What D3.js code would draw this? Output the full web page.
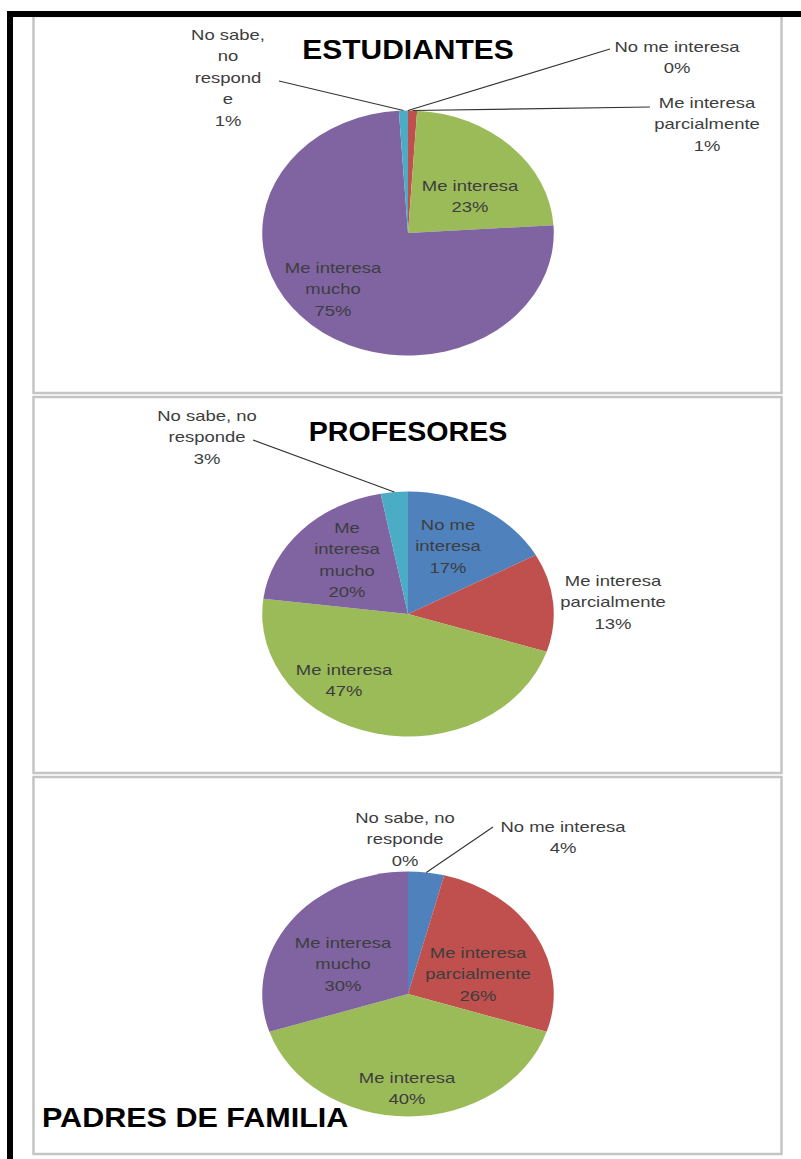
<!DOCTYPE html>
<html>
<head>
<meta charset="utf-8">
<script src="https://cdn.jsdelivr.net/npm/d3@7"></script>
<style>
  body { margin: 0; background: #fff; }
  svg { display: block; }
</style>
</head>
<body>
<div id="chart"></div>
<script>
// data
const categories = ["No me interesa", "Me interesa parcialmente", "Me interesa", "Me interesa mucho", "No sabe, no responde"]
const colors = ["#4F81BD", "#C0504D", "#9BBB59", "#8064A2", "#4BACC6"]
const titles = ["ESTUDIANTES", "PROFESORES", "PADRES DE FAMILIA"]
const estudiantes = [0, 1, 23, 75, 1]
const profesores = [17, 13, 47, 20, 3]
const padres = [4, 26, 40, 30, 0]

// how each category name is wrapped in each chart
const wrapEstudiantes = [["No me interesa"], ["Me interesa", "parcialmente"], ["Me interesa"], ["Me interesa", "mucho"], ["No sabe,", "no", "respond", "e"]]
const wrapProfesores = [["No me", "interesa"], ["Me interesa", "parcialmente"], ["Me interesa"], ["Me", "interesa", "mucho"], ["No sabe, no", "responde"]]
const wrapPadres = [["No me interesa"], ["Me interesa", "parcialmente"], ["Me interesa"], ["Me interesa", "mucho"], ["No sabe, no", "responde"]]

const W = 801, H = 1159
const RY = 122.5            // vertical radius of the pie
const SX = 1.19             // the original picture is stretched horizontally
const TEXT_SX = 1.23
const LINE = 21.5

// layout of every panel (label positions = centre x, first baseline, leader start)
const panels = [
  {
    values: estudiantes, wrap: wrapEstudiantes, top: 16, bottom: 393,
    cx: 408, cy: 233,
    title: {x: 408, y: 59, anchor: "middle", sx: 1.09},
    labels: [
      {x: 677, y: 52, lead: [610, 49]},
      {x: 707, y: 108, lead: [650, 107]},
      {x: 470, y: 191},
      {x: 333, y: 273},
      {x: 228, y: 40, lead: [279, 81]}
    ]
  },
  {
    values: profesores, wrap: wrapProfesores, top: 397, bottom: 773,
    cx: 408, cy: 614,
    title: {x: 408, y: 441, anchor: "middle", sx: 1.04},
    labels: [
      {x: 448, y: 530},
      {x: 613, y: 586},
      {x: 344, y: 675},
      {x: 347, y: 533},
      {x: 207, y: 421, lead: [253, 440]}
    ]
  },
  {
    values: padres, wrap: wrapPadres, top: 777, bottom: 1154,
    cx: 408, cy: 994,
    title: {x: 42, y: 1127, anchor: "start", sx: 1.11},
    labels: [
      {x: 563, y: 832, lead: [493, 827]},
      {x: 478, y: 958},
      {x: 407, y: 1083},
      {x: 343, y: 948},
      {x: 405, y: 823}
    ]
  }
]

const svg = d3.select("#chart").append("svg")
  .attr("width", W)
  .attr("height", H)

const pie = d3.pie().sort(null).value(d => d)
const arc = d3.arc().innerRadius(0).outerRadius(RY)

panels.forEach((p, i) => {
  // panel frame
  svg.append("rect")
    .attr("x", 33.5).attr("y", p.top)
    .attr("width", 748).attr("height", p.bottom - p.top)
    .attr("fill", "#fff")
    .attr("stroke", "#c4c4c4")
    .attr("stroke-width", 2.5)

  const slices = pie(p.values)

  // pie, drawn as a circle and stretched into an ellipse
  svg.append("g")
    .attr("transform", `translate(${p.cx},${p.cy}) scale(${SX},1)`)
    .selectAll("path")
    .data(slices)
    .join("path")
    .attr("d", arc)
    .attr("fill", (d, j) => colors[j])

  // leader lines from the label to the middle of the slice edge
  slices.forEach((s, j) => {
    const lab = p.labels[j]
    if (!lab.lead) return
    const a = (s.startAngle + s.endAngle) / 2
    const ex = p.cx + RY * SX * Math.sin(a)
    const ey = p.cy - RY * Math.cos(a)
    svg.append("line")
      .attr("x1", lab.lead[0]).attr("y1", lab.lead[1])
      .attr("x2", ex).attr("y2", ey)
      .attr("stroke", "#333")
      .attr("stroke-width", 1.1)
  })

  // data labels
  slices.forEach((s, j) => {
    const lab = p.labels[j]
    const lines = p.wrap[j].concat([`${p.values[j]}%`])
    const t = svg.append("text")
      .attr("transform", `translate(${lab.x},${lab.y}) scale(${TEXT_SX},1)`)
      .attr("text-anchor", "middle")
      .attr("font-family", "Liberation Sans, Arial, sans-serif")
      .attr("font-size", 15)
      .attr("fill", "#3d3d3d")
    lines.forEach((l, k) => {
      t.append("tspan").attr("x", 0).attr("y", k * LINE).text(l)
    })
  })

  // title
  svg.append("text")
    .attr("transform", `translate(${p.title.x},${p.title.y}) scale(${p.title.sx},1)`)
    .attr("text-anchor", p.title.anchor)
    .attr("font-family", "Liberation Sans, Arial, sans-serif")
    .attr("font-weight", "bold")
    .attr("font-size", 27.5)
    .attr("fill", "#000")
    .text(titles[i])
})

// heavy black border at top and left
svg.append("rect").attr("x", 7).attr("y", 11).attr("width", W - 7).attr("height", 6).attr("fill", "#000")
svg.append("rect").attr("x", 7).attr("y", 11).attr("width", 6).attr("height", H - 11).attr("fill", "#000")
</script>
</body>
</html>
